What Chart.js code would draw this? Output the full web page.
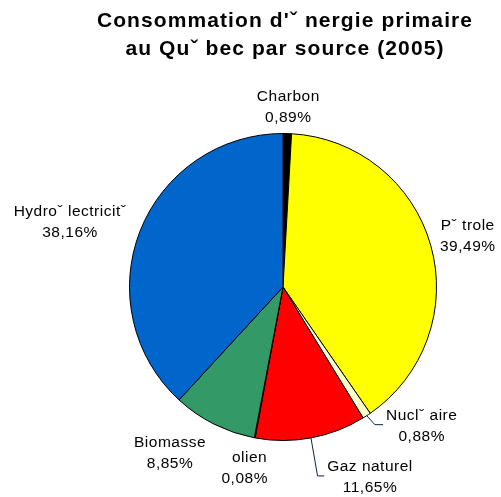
<!DOCTYPE html>
<html>
<head>
<meta charset="utf-8">
<script src="https://cdn.jsdelivr.net/npm/chart.js@4"></script>
<style>
  html, body { margin: 0; padding: 0; background: #fff; }
  canvas { display: block; }
</style>
</head>
<body>
<canvas id="grafico" width="501" height="497"></canvas>
<script>
// Données
const titre = ["Consommation d'\u02c7 nergie primaire", "au Qu\u02c7 bec par source (2005)"];
const sources = ['Charbon', 'P\u02c7 trole', 'Nucl\u02c7 aire', 'Gaz naturel', '\u00a0\u00a0olien', 'Biomasse', 'Hydro\u02c7 lectricit\u02c7'];
const parts = [0.89, 39.49, 0.88, 11.65, 0.08, 8.85, 38.16];
const couleurs = ['#000000', '#FFFF00', '#FFFFCC', '#FF0000', '#33CCCC', '#339966', '#0066CC'];

// décalage des étiquettes par rapport au bord de la part (style)
const decalages = [[1, -28], [37, -10], [55, 9], [59, 38], [-10, 29], [-44, 28], [-70, -10]];
const avecTrait = [false, false, true, true, false, false, false];

const formatPct = v => v.toFixed(2).replace('.', ',') + '%';

const pluginEtiquettes = {
  id: 'etiquettes',
  afterDraw(chart) {
    const ctx = chart.ctx;
    ctx.save();
    // titre
    ctx.fillStyle = '#000';
    ctx.font = 'bold 21px "Liberation Sans", Arial, sans-serif';
    ctx.letterSpacing = '1.1px';
    ctx.textAlign = 'center';
    ctx.textBaseline = 'alphabetic';
    ctx.fillText(titre[0], 285, 27);
    ctx.fillText(titre[1], 285, 55);

    ctx.font = '15.5px "Liberation Sans", Arial, sans-serif';
    ctx.letterSpacing = '0.5px';
    const arcs = chart.getDatasetMeta(0).data;
    arcs.forEach((arc, i) => {
      const p = arc.getProps(['x', 'y', 'startAngle', 'endAngle', 'outerRadius'], true);
      const mid = (p.startAngle + p.endAngle) / 2;
      const ax = p.x + Math.cos(mid) * p.outerRadius;
      const ay = p.y + Math.sin(mid) * p.outerRadius;
      const cx = ax + decalages[i][0];
      const cy = ay + decalages[i][1];
      const l1 = sources[i], l2 = formatPct(parts[i]);
      if (avecTrait[i]) {
        const w = Math.max(ctx.measureText(l1).width, ctx.measureText(l2).width);
        const xFin = cx - w / 2 - 3;
        const yTrait = cy;
        ctx.strokeStyle = '#10204a';
        ctx.lineWidth = 1;
        ctx.beginPath();
        ctx.moveTo(ax, ay);
        ctx.lineTo(ax + (xFin - ax) * 0.5, yTrait);
        ctx.lineTo(xFin, yTrait);
        ctx.stroke();
      }
      ctx.fillStyle = '#000';
      ctx.textAlign = 'center';
      ctx.fillText(l1, cx, cy - 10.5 + 5.5);
      ctx.fillText(l2, cx, cy + 10.5 + 5.5);
    });
    ctx.restore();
  }
};

new Chart(document.getElementById('grafico'), {
  type: 'pie',
  data: {
    labels: sources,
    datasets: [{
      data: parts,
      backgroundColor: couleurs,
      borderColor: '#000',
      borderWidth: 1
    }]
  },
  options: {
    responsive: false,
    animation: false,
    layout: { padding: { left: 129, top: 133, right: 64, bottom: 56 } },
    plugins: {
      legend: { display: false },
      tooltip: { enabled: false },
      title: { display: false }
    }
  },
  plugins: [pluginEtiquettes]
});
</script>
</body>
</html>
